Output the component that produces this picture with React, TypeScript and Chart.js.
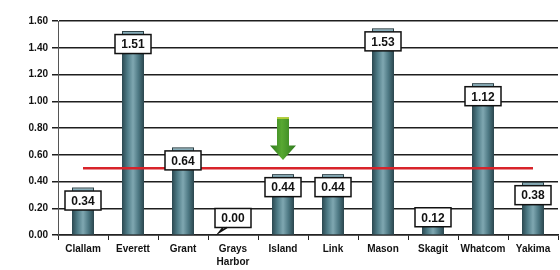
import React, { useEffect, useRef } from "react";
import { Chart, registerables } from "chart.js";

Chart.register(...registerables);

const categories: (string | string[])[] = [
  "Clallam",
  "Everett",
  "Grant",
  ["Grays", "Harbor"],
  "Island",
  "Link",
  "Mason",
  "Skagit",
  "Whatcom",
  "Yakima",
];
const values = [0.34, 1.51, 0.64, 0.0, 0.44, 0.44, 1.53, 0.12, 1.12, 0.38];
const target = [0.5, 0.5, 0.5, 0.5, 0.5, 0.5, 0.5, 0.5, 0.5, 0.5];
const yTicks = [0, 0.2, 0.4, 0.6, 0.8, 1.0, 1.2, 1.4, 1.6];
const arrowIndex = 4;
const arrowTop = 0.88;
const arrowHeadBase = 0.67;
const arrowTip = 0.56;

const FONT = "'Liberation Sans', Arial, sans-serif";

const barStylePlugin = {
  id: "barStyle",
  afterDatasetDraw(chart: any, args: any) {
    if (args.index !== 0) return;
    const ctx = chart.ctx;
    const meta = chart.getDatasetMeta(0);
    ctx.save();
    meta.data.forEach((el: any) => {
      const w = el.width;
      const left = el.x - w / 2;
      const top = el.y;
      const base = el.base;
      if (base - top < 0.5) return;
      const g = ctx.createLinearGradient(left, 0, left + w, 0);
      g.addColorStop(0, "#2b4850");
      g.addColorStop(0.25, "#4f7c87");
      g.addColorStop(0.5, "#7fa7b1");
      g.addColorStop(0.75, "#4d7883");
      g.addColorStop(1, "#2a454d");
      ctx.fillStyle = g;
      ctx.fillRect(left, top, w, base - top);
      // cap
      ctx.fillStyle = "#86aebb";
      ctx.fillRect(left, top - 1, w, 4);
      ctx.strokeStyle = "#2a3f45";
      ctx.lineWidth = 1;
      ctx.strokeRect(left + 0.5, top - 1.5, w - 1, 4);
    });
    ctx.restore();
  },
};

const overlayPlugin = {
  id: "overlay",
  afterDraw(chart: any) {
    const ctx = chart.ctx;
    const meta = chart.getDatasetMeta(0);
    const x = chart.scales.x;
    const y = chart.scales.y;
    ctx.save();
    // arrow
    const ax = x.getPixelForValue(arrowIndex);
    const yTop = y.getPixelForValue(arrowTop);
    const yHead = y.getPixelForValue(arrowHeadBase);
    const yTip = y.getPixelForValue(arrowTip);
    const g = ctx.createLinearGradient(ax - 13, 0, ax + 13, 0);
    g.addColorStop(0, "#2f7a1e");
    g.addColorStop(0.45, "#58a832");
    g.addColorStop(1, "#2f7a1e");
    ctx.fillStyle = g;
    ctx.beginPath();
    ctx.moveTo(ax - 6, yTop);
    ctx.lineTo(ax + 6, yTop);
    ctx.lineTo(ax + 6, yHead);
    ctx.lineTo(ax + 13, yHead);
    ctx.lineTo(ax, yTip);
    ctx.lineTo(ax - 13, yHead);
    ctx.lineTo(ax - 6, yHead);
    ctx.closePath();
    ctx.fill();
    ctx.fillStyle = "#c9d83a";
    ctx.fillRect(ax - 6, yTop, 12, 1.5);

    // labels
    ctx.font = `bold 12px ${FONT}`;
    ctx.textAlign = "center";
    ctx.textBaseline = "middle";
    meta.data.forEach((el: any, i: number) => {
      const v = values[i];
      const bw = 36;
      const bh = 19;
      const cy = Math.min(el.y + 11, el.base - 17);
      const left = el.x - bw / 2;
      const topB = cy - bh / 2;
      ctx.fillStyle = "#ffffff";
      ctx.fillRect(left, topB, bw, bh);
      ctx.strokeStyle = "#111";
      ctx.lineWidth = 1.5;
      ctx.strokeRect(left, topB, bw, bh);
      if (v === 0) {
        ctx.beginPath();
        ctx.moveTo(el.x - 10, topB + bh);
        ctx.lineTo(el.x - 14, topB + bh + 5);
        ctx.lineTo(el.x - 6, topB + bh);
        ctx.stroke();
      }
      ctx.fillStyle = "#111";
      ctx.fillText(v.toFixed(2), el.x, cy + 1);
    });
    ctx.restore();
  },
};

export default function App() {
  const ref = useRef<HTMLCanvasElement>(null);
  useEffect(() => {
    document.body.style.margin = "0";
    const chart = new Chart(ref.current as HTMLCanvasElement, {
      type: "bar",
      data: {
        labels: categories,
        datasets: [
          {
            type: "bar",
            data: values,
            backgroundColor: "#4f7c87",
            borderWidth: 0,
            barPercentage: 0.44,
            categoryPercentage: 1,
            order: 2,
          },
          {
            type: "line",
            data: target,
            borderColor: "#d8232a",
            borderWidth: 2.5,
            pointRadius: 0,
            fill: false,
            order: 1,
          } as any,
        ],
      },
      options: {
        animation: false,
        responsive: false,
        layout: { padding: { top: 21, right: 2, left: 0, bottom: 0 } },
        plugins: { legend: { display: false }, tooltip: { enabled: false } },
        scales: {
          x: {
            afterFit(s: any) {
              s.height = 35;
            },
            grid: {
              drawOnChartArea: false,
              offset: true,
              tickLength: 5,
              color: "#222",
            },
            border: { color: "#222", width: 1.5 },
            ticks: {
              color: "#111",
              padding: 3,
              maxRotation: 0,
              autoSkip: false,
              font: { family: FONT, size: 10, weight: "bold", lineHeight: 1.3 },
            },
          },
          y: {
            min: 0,
            max: 1.6,
            afterFit(s: any) {
              s.width = 58;
            },
            afterBuildTicks(s: any) {
              s.ticks = yTicks.map((v) => ({ value: v }));
            },
            grid: { color: "#1e1e1e", lineWidth: 1.5, tickLength: 6 },
            border: { color: "#555", width: 1 },
            ticks: {
              color: "#111",
              padding: 4,
              font: { family: FONT, size: 10, weight: "bold" },
              callback: (v: any) => Number(v).toFixed(2),
            },
          },
        },
      },
      plugins: [barStylePlugin, overlayPlugin],
    });
    return () => chart.destroy();
  }, []);
  return (
    <div style={{ width: 560, height: 270 }}>
      <canvas ref={ref} width={560} height={270} />
    </div>
  );
}
